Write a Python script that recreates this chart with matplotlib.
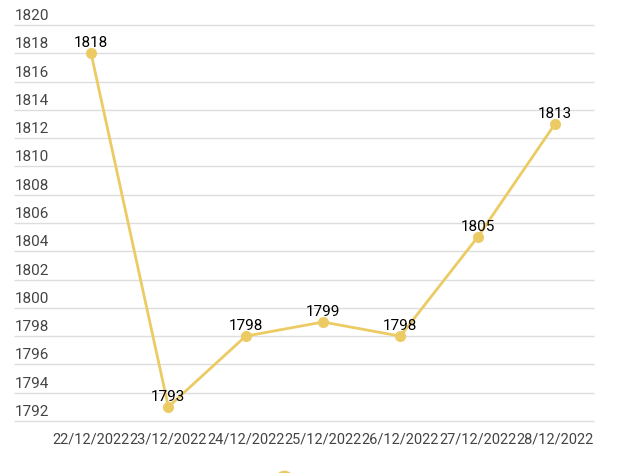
import matplotlib.pyplot as plt
from matplotlib.transforms import offset_copy

dates = ["22/12/2022", "23/12/2022", "24/12/2022", "25/12/2022",
         "26/12/2022", "27/12/2022", "28/12/2022"]
prices = [1818, 1793, 1798, 1799, 1798, 1805, 1813]
y_ticks = list(range(1792, 1821, 2))

_LINE_COLOR = "#ECCB64"
_GRID_COLOR = "#DDDDDD"
_TICK_COLOR = "#444444"

plt.rcParams["font.family"] = ["Roboto", "DejaVu Sans"]

fig = plt.figure(figsize=(6.2, 4.73), dpi=100)
W, H = 620, 473
left, right, top, bottom = 52.4, 593.6, 25, 421
ax = fig.add_axes([left / W, 1 - bottom / H, (right - left) / W, (bottom - top) / H])

xs = list(range(len(dates)))
ax.plot(xs, prices, color=_LINE_COLOR, lw=2, marker="o", ms=8,
        markeredgewidth=0, label=" ", clip_on=False, zorder=3)

ax.set_xlim(-0.5, len(dates) - 0.5)
ax.set_ylim(y_ticks[0], y_ticks[-1])
for s in ax.spines.values():
    s.set_visible(False)

# gridlines run under the y labels
grid_x0 = (14 - left) / (right - left)
ax.hlines(y_ticks, grid_x0, 1, transform=ax.get_yaxis_transform(),
          colors=_GRID_COLOR, lw=1, clip_on=False, zorder=1)

ax.set_yticks([])
label_tr = offset_copy(ax.get_yaxis_transform(), fig=fig, x=0, y=9, units="dots")
for v in y_ticks:
    ax.text((15 - left) / (right - left), v, str(v), transform=label_tr,
            ha="left", va="center", fontsize=11, color=_TICK_COLOR)

ax.set_xticks(xs)
ax.set_xticklabels(dates, fontsize=10.5, color=_TICK_COLOR)
ax.tick_params(axis="x", length=0, pad=8)

for x, p in zip(xs, prices):
    ax.annotate(str(p), (x, p), xytext=(0, 10), textcoords="offset pixels",
                ha="center", va="center", fontsize=11, color="black")

fig.legend(loc="upper center", bbox_to_anchor=(286 / W, 6 / H),
           frameon=False, handlelength=0, handletextpad=0, markerscale=1.6,
           borderaxespad=0)

fig.savefig("out.png", dpi=100)
